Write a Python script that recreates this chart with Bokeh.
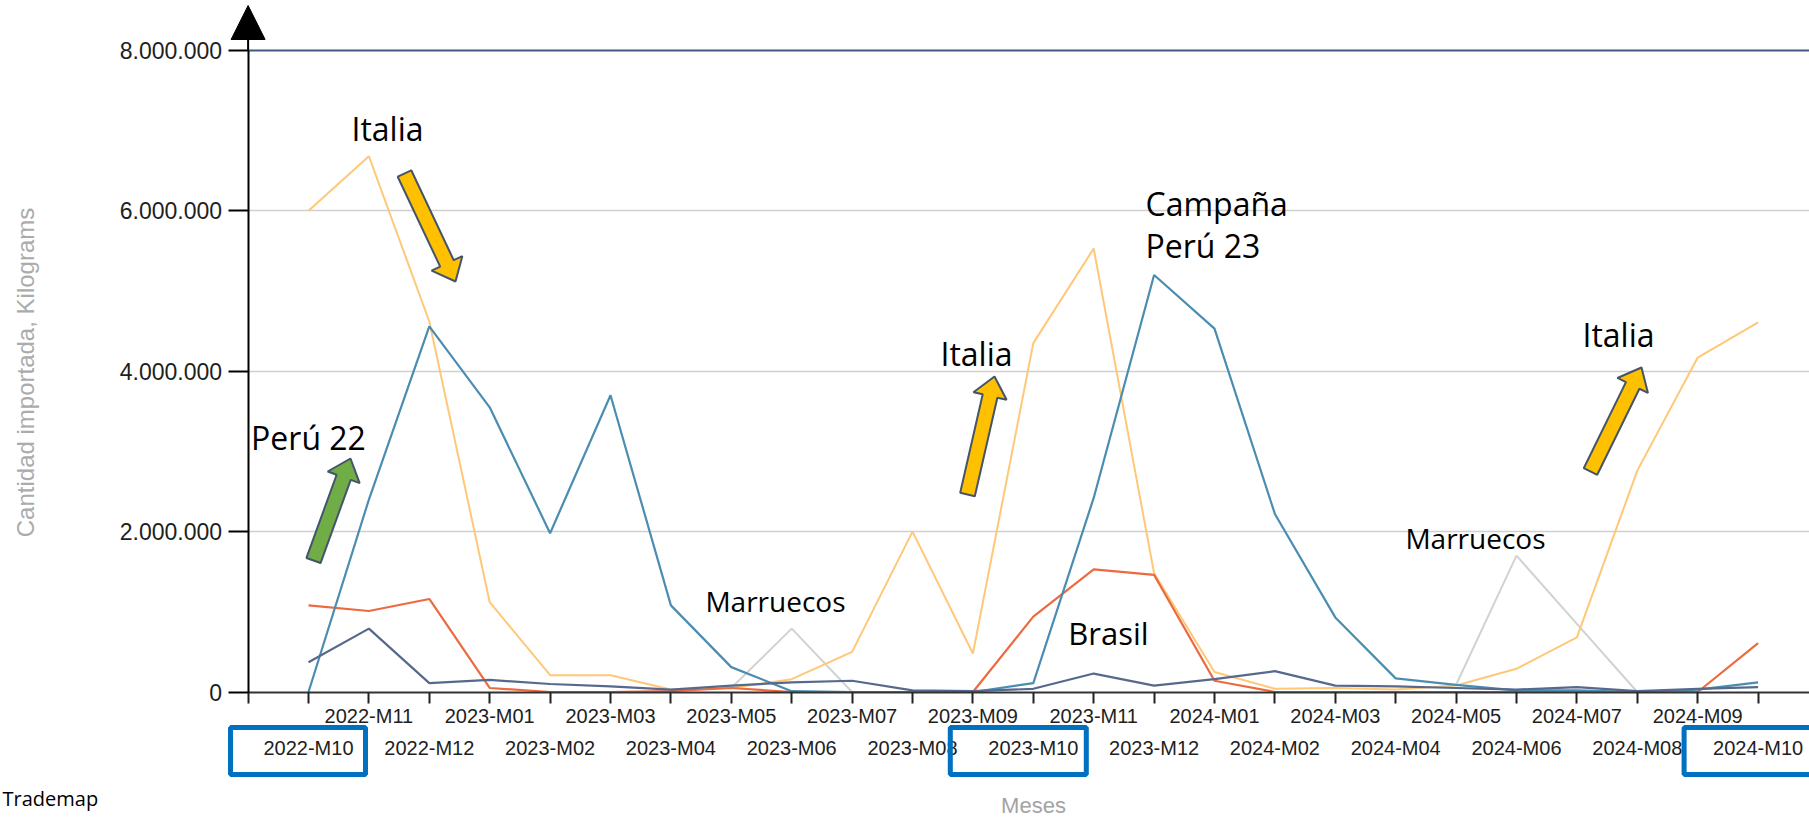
import math
import numpy as np
from bokeh.plotting import figure
from bokeh.models import (Range1d, FixedTicker, LinearAxis, Grid, Label, BoxAnnotation,
                          PolyAnnotation, Arrow, NormalHead, ColumnDataSource)
from bokeh.embed import file_html
from bokeh.resources import INLINE

# ---------------- data (kilograms) ----------------
months = ["2022-M10", "2022-M11", "2022-M12", "2023-M01", "2023-M02", "2023-M03",
          "2023-M04", "2023-M05", "2023-M06", "2023-M07", "2023-M08", "2023-M09",
          "2023-M10", "2023-M11", "2023-M12", "2024-M01", "2024-M02", "2024-M03",
          "2024-M04", "2024-M05", "2024-M06", "2024-M07", "2024-M08", "2024-M09",
          "2024-M10"]

italia_kg = [6000000, 6680000, 4620000, 1120000, 210000, 210000, 30000, 50000, 160000,
             500000, 2000000, 480000, 4350000, 5530000, 1480000, 250000, 40000, 50000,
             30000, 80000, 290000, 680000, 2760000, 4170000, 4610000]
peru_kg = [0, 2400000, 4560000, 3550000, 1980000, 3700000, 1080000, 310000, 10000,
           0, 0, 0, 110000, 2420000, 5200000, 4530000, 2220000, 930000, 170000,
           90000, 20000, 20000, 0, 30000, 120000]
brasil_kg = [1080000, 1010000, 1160000, 50000, 0, 0, 10000, 50000, 0, 0, 0, 0,
             940000, 1530000, 1460000, 140000, 0, 0, 0, 0, 0, 0, 0, 0, 610000]
otros_kg = [370000, 790000, 110000, 150000, 100000, 70000, 30000, 80000, 120000,
            140000, 20000, 10000, 40000, 230000, 80000, 160000, 260000, 80000, 70000,
            50000, 30000, 60000, 10000, 40000, 60000]
marruecos_kg = [None, None, None, None, None, None, None, 50000, 790000, 0,
                None, None, None, None, None, None, None, None, None,
                90000, 1700000, 850000, 0, None, None]

y_ticks = [0, 2000000, 4000000, 6000000, 8000000]

# ---------------- layout (frame = whole canvas) ----------------
W, H = 1809, 817
X0_PX, X_STEP = 308.0, 60.4          # pixel of first month, pixels per month
Y0_PX, Y_STEP = 691.5, 80.2 / 1e6    # pixel of zero, pixels per kilogram
XSTART, XEND = -X0_PX / X_STEP, (W - X0_PX) / X_STEP
YSTART, YEND = -(H - Y0_PX) / Y_STEP, Y0_PX / Y_STEP


def dx(px):
    return (px - X0_PX) / X_STEP


def dy(py):
    return (Y0_PX - py) / Y_STEP


AXIS_FONT = "Liberation Sans"
NOTE_FONT = "Open Sans"

p = figure(width=W, height=H, x_range=Range1d(XSTART, XEND), y_range=Range1d(YSTART, YEND),
           output_backend="svg", toolbar_location=None, x_axis_type=None, y_axis_type=None,
           min_border=0, min_border_left=0, min_border_right=0, min_border_top=0,
           min_border_bottom=0)
p.outline_line_color = None
p.background_fill_color = "white"
p.border_fill_color = "white"

# ---------------- grid ----------------
grid_ok = "cross_bounds" in Grid.properties()
for ticks, col, lw in [(y_ticks[1:-1], "#d0d0d0", 1.5), (y_ticks[-1:], "#3f5a84", 2)]:
    if grid_ok:
        p.add_layout(Grid(dimension=1, ticker=FixedTicker(ticks=ticks),
                          cross_bounds=(-1, XEND), grid_line_color=col,
                          grid_line_width=lw))
    else:
        p.segment(x0=[-1] * len(ticks), x1=[XEND] * len(ticks), y0=ticks, y1=ticks,
                  line_color=col, line_width=lw)

# ---------------- axes ----------------
ya = LinearAxis(fixed_location=-1, bounds=(0, y_ticks[-1]),
                ticker=FixedTicker(ticks=y_ticks),
                major_label_overrides={v: f"{v:,}".replace(",", ".") for v in y_ticks})
ya.major_label_text_font = AXIS_FONT
ya.major_label_text_font_size = "23px"
ya.major_label_text_color = "#1e1e1e"
ya.major_label_standoff = 6
ya.major_tick_out = 20
ya.major_tick_in = 0
ya.major_tick_line_color = "black"
ya.major_tick_line_width = 2
ya.minor_tick_line_color = None
ya.axis_line_color = "black"
ya.axis_line_width = 2
p.add_layout(ya, "left")

idx = list(range(len(months)))
over1 = {-1: ""}
for i, m in enumerate(months):
    over1[i] = m if i % 2 == 1 else ""
xa = LinearAxis(fixed_location=0, bounds=(-1, XEND), ticker=FixedTicker(ticks=[-1] + idx),
                major_label_overrides=over1)
xa.major_label_text_font = AXIS_FONT
xa.major_label_text_font_size = "20px"
xa.major_label_text_color = "#1e1e1e"
xa.major_label_standoff = 2
xa.major_tick_out = 11
xa.major_tick_in = 0
xa.major_tick_line_color = "#222222"
xa.major_tick_line_width = 2
xa.minor_tick_line_color = None
xa.axis_line_color = "#333333"
xa.axis_line_width = 2
p.add_layout(xa, "below")

even = [i for i in idx if i % 2 == 0]
xa2 = LinearAxis(fixed_location=0, ticker=FixedTicker(ticks=even),
                 major_label_overrides={i: months[i] for i in even})
xa2.major_label_text_font = AXIS_FONT
xa2.major_label_text_font_size = "20px"
xa2.major_label_text_color = "#1e1e1e"
xa2.major_label_standoff = 45
xa2.major_tick_out = 0
xa2.major_tick_in = 0
xa2.major_tick_line_color = None
xa2.minor_tick_line_color = None
xa2.axis_line_color = None
p.add_layout(xa2, "below")

# axis titles
p.add_layout(Label(x=dx(1033), y=dy(805), text="Meses", text_font=AXIS_FONT,
                   text_font_size="22px", text_color="#a3a3a3", text_align="center",
                   text_baseline="middle"))
p.add_layout(Label(x=dx(25), y=dy(372), text="Cantidad importada, Kilograms",
                   text_font=AXIS_FONT, text_font_size="24px", text_color="#ababab",
                   text_align="center", text_baseline="middle", angle=math.pi / 2))

# arrow head on top of the y axis
p.add_layout(Arrow(end=NormalHead(size=34, fill_color="black", line_color="black"),
                   x_start=-1, y_start=y_ticks[-1], x_end=-1, y_end=dy(5),
                   line_color="black", line_width=2))

# ---------------- series ----------------
def arr(v):
    return np.array([np.nan if a is None else a for a in v], dtype=float)


src = ColumnDataSource(dict(x=idx, italia=arr(italia_kg), peru=arr(peru_kg),
                            brasil=arr(brasil_kg), otros=arr(otros_kg),
                            marruecos=arr(marruecos_kg)))
p.line("x", "marruecos", source=src, line_color="#d2d2d2", line_width=2)
p.line("x", "italia", source=src, line_color="#ffc878", line_width=2)
p.line("x", "brasil", source=src, line_color="#ec6a40", line_width=2.2)
p.line("x", "peru", source=src, line_color="#4a8db1", line_width=2.2)
p.line("x", "otros", source=src, line_color="#56698c", line_width=2.2)

# ---------------- annotations ----------------
def block_arrow(tail, tip, fill, body=15, head_w=34, head_l=20):
    t = np.array(tail, float)
    h = np.array(tip, float)
    u = (h - t) / np.linalg.norm(h - t)
    n = np.array([-u[1], u[0]])
    base = h - u * head_l
    pts = [t + n * body / 2, base + n * body / 2, base + n * head_w / 2, h,
           base - n * head_w / 2, base - n * body / 2, t - n * body / 2]
    p.add_layout(PolyAnnotation(xs=[dx(q[0]) for q in pts], ys=[dy(q[1]) for q in pts],
                                fill_color=fill, fill_alpha=1.0,
                                line_color="#44546a", line_alpha=1.0, line_width=2))


block_arrow((404, 173), (455, 281), "#ffc000")
block_arrow((313, 560), (350, 458), "#70ad47")
block_arrow((967, 494), (994, 376), "#ffc000")
block_arrow((1590, 471), (1641, 367), "#ffc000")


def note(txt, cx, cy, size, align="center"):
    p.add_layout(Label(x=dx(cx), y=dy(cy), text=txt, text_font=NOTE_FONT,
                       text_font_size=f"{size}px", text_align=align,
                       text_baseline="middle", text_color="black"))


note("Italia", 387, 128, 32)
note("Perú 22", 308, 437, 32)
note("Italia", 976, 353, 32)
note("Campaña", 1145, 203, 32, "left")
note("Perú 23", 1145, 245, 32, "left")
note("Italia", 1618, 334, 32)
note("Marruecos", 775, 600, 28)
note("Brasil", 1108, 632, 31)
note("Marruecos", 1475, 537, 28)
note("Trademap", 2, 798, 20, "left")

# blue highlight boxes around selected months
for cat, l_off, r_off in [("2022-M10", -78, 57), ("2023-M10", -83, 53), ("2024-M10", -74, 60)]:
    i = months.index(cat)
    p.add_layout(BoxAnnotation(left=i + l_off / X_STEP, right=i + r_off / X_STEP,
                               top=dy(727), bottom=dy(774), fill_color=None,
                               fill_alpha=0, line_color="#0070c0", line_alpha=1.0,
                               line_width=5))

open("out.html", "w").write(file_html(p, INLINE))
